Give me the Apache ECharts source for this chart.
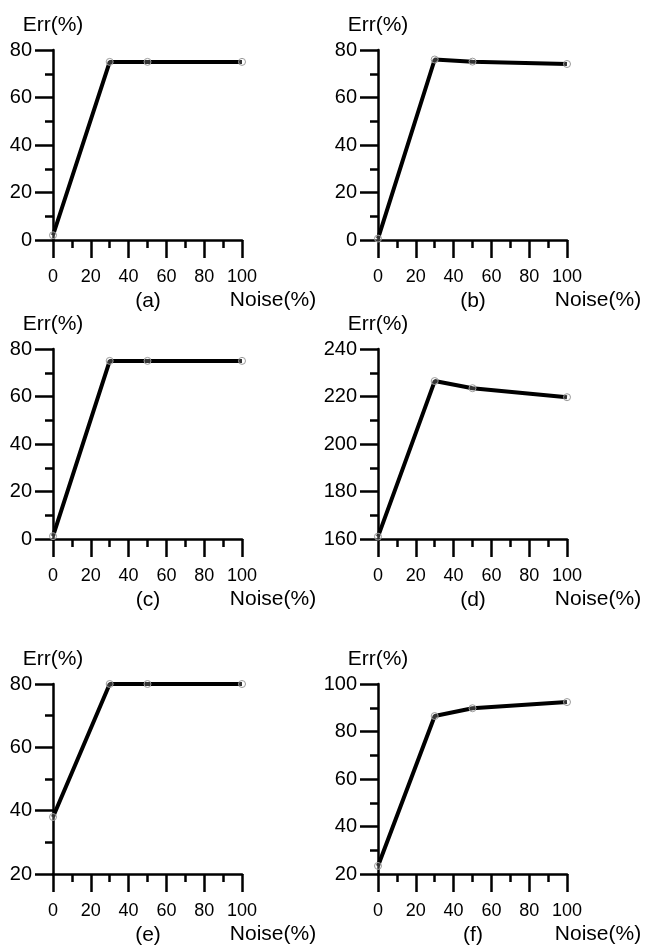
<!DOCTYPE html>
<html>
<head>
<meta charset="utf-8">
<title>Err vs Noise</title>
<script src="https://cdn.jsdelivr.net/npm/echarts@6/dist/echarts.min.js"></script>
</head>
<body style="margin:0;background:#fff">
<div id="main" style="width:645px;height:947px;"></div>
<script type="text/javascript">
// noise levels (x) and error values (y) for the six panels
var noise = [0, 30, 50, 100];
var errA = [2, 75, 75, 75];
var errB = [0.6, 76, 75.1, 74.1];
var errC = [1.2, 75, 75, 75];
var errD = [161, 226.5, 223.5, 219.7];
var errE = [38, 80, 80, 80];
var errF = [23.4, 86.5, 89.8, 92.4];
var panelNames = ['(a)', '(b)', '(c)', '(d)', '(e)', '(f)'];
var yMin = [0, 0, 0, 160, 20, 20];
var yMax = [80, 80, 80, 240, 80, 100];

var allErr = [errA, errB, errC, errD, errE, errF];
var lefts = [53, 378, 53, 378, 53, 378];
var tops = [50, 50, 349, 349, 684, 684];
var W = 189, H = 190;
var font = 'Arial, "Liberation Sans", sans-serif';

var chart = echarts.init(document.getElementById('main'));

var axisCommon = {
    axisLine: { show: true, onZero: false, lineStyle: { color: '#000', width: 2.5 } },
    axisTick: { show: true, inside: false, length: 18, lineStyle: { color: '#000', width: 2.5 } },
    minorTick: { show: true, splitNumber: 2, length: 8, lineStyle: { color: '#000', width: 2.5 } },
    splitLine: { show: false },
    minorSplitLine: { show: false }
};

var grids = [], xAxes = [], yAxes = [], series = [], texts = [];
for (var i = 0; i < 6; i++) {
    grids.push({ left: lefts[i], top: tops[i], width: W, height: H });
    xAxes.push(Object.assign({
        type: 'value', gridIndex: i, min: 0, max: 100, interval: 20,
        axisLabel: { margin: 28, fontSize: 18, color: '#000', fontFamily: font }
    }, axisCommon));
    yAxes.push(Object.assign({
        type: 'value', gridIndex: i, min: yMin[i], max: yMax[i], interval: 20,
        name: 'Err(%)', nameLocation: 'end', nameGap: 14,
        nameTextStyle: { fontSize: 21, color: '#000', fontFamily: font },
        axisLabel: { margin: 21, fontSize: 20, color: '#000', fontFamily: font }
    }, axisCommon));
    series.push({
        type: 'line', xAxisIndex: i, yAxisIndex: i, clip: false,
        data: noise.map(function (x, k) { return [x, allErr[i][k]]; }),
        symbol: 'circle', symbolSize: 7,
        itemStyle: { color: 'rgba(255,255,255,0.2)', borderColor: '#9a9a9a', borderWidth: 1 },
        lineStyle: { color: '#000', width: 4 },
        z: 3
    });
    texts.push({
        type: 'text', x: lefts[i] + 95, y: tops[i] + H + 61,
        style: { text: panelNames[i], fill: '#000', font: '21px ' + font,
                 align: 'center', verticalAlign: 'middle' }
    });
    texts.push({
        type: 'text', x: lefts[i] + 220, y: tops[i] + H + 60,
        style: { text: 'Noise(%)', fill: '#000', font: '21px ' + font,
                 align: 'center', verticalAlign: 'middle' }
    });
}

chart.setOption({
    animation: false,
    backgroundColor: '#fff',
    grid: grids,
    xAxis: xAxes,
    yAxis: yAxes,
    series: series,
    graphic: texts
});
</script>
</body>
</html>
